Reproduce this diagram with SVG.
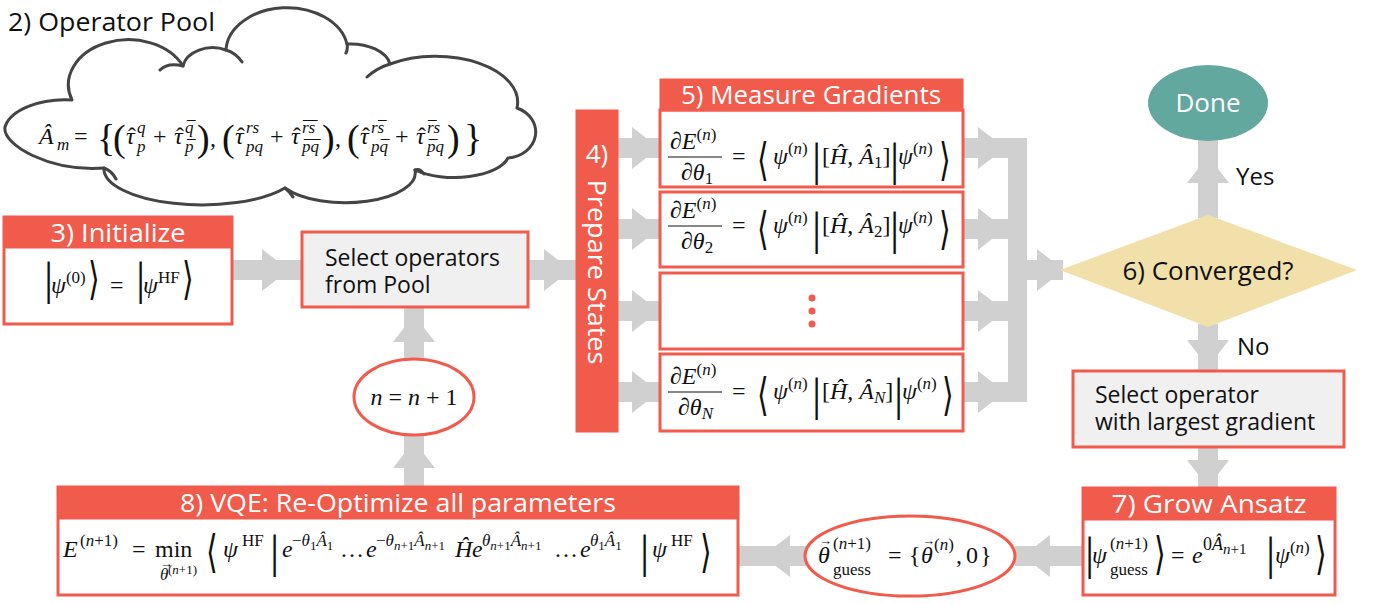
<svg xmlns="http://www.w3.org/2000/svg" width="1380" height="604" viewBox="0 0 1380 604">
<defs>
<style>
.lbl{font-family:"Open Sans","Noto Sans","DejaVu Sans",sans-serif;fill:#111;}
.hdr{font-family:"Open Sans","Noto Sans","DejaVu Sans",sans-serif;font-size:26px;fill:#fff;text-anchor:middle;}
.red{fill:#f15b4c;stroke:#f15b4c;stroke-width:1;}
.box{fill:#fff;stroke:#f15b4c;stroke-width:3;}
.sel{fill:#f0f0f0;stroke:#f15b4c;stroke-width:3;}
.arw{fill:#d0d0d0;}
.m{font-family:"Liberation Serif","DejaVu Serif",serif;font-size:24px;fill:#111;}
.i{font-style:italic;}
.s{font-size:17px;}
.ss{font-size:13px;}
.br{font-size:38px;}
.bar{font-family:"Liberation Serif","DejaVu Serif",serif;font-size:46px;fill:#111;}
.ang{font-family:"DejaVu Sans","DejaVu Serif",serif;font-size:30px;fill:#111;}
.cloud{fill:#fff;stroke:#444;stroke-width:3;stroke-linejoin:round;}
.tail{fill:none;stroke:#444;stroke-width:3;stroke-linecap:round;}
</style>
</defs>
<rect width="1380" height="604" fill="#fff"/>

<g id="connectors">
  <rect class="arw" x="232" y="260" width="70" height="20"/>
  <polygon class="arw" points="262,249 289,270 262,291"/>
  <rect class="arw" x="528" y="260" width="48" height="20"/>
  <polygon class="arw" points="544,249 571,270 544,291"/>
  <rect class="arw" x="618" y="138" width="42" height="20"/>
  <polygon class="arw" points="632,127 659,148 632,169"/>
  <rect class="arw" x="618" y="219" width="42" height="20"/>
  <polygon class="arw" points="632,208 659,229 632,250"/>
  <rect class="arw" x="618" y="301" width="42" height="20"/>
  <polygon class="arw" points="632,290 659,311 632,332"/>
  <rect class="arw" x="618" y="382" width="42" height="20"/>
  <polygon class="arw" points="632,371 659,392 632,413"/>
  <rect class="arw" x="963" y="138" width="45" height="20"/>
  <polygon class="arw" points="978,127 1005,148 978,169"/>
  <rect class="arw" x="963" y="219" width="45" height="20"/>
  <polygon class="arw" points="978,208 1005,229 978,250"/>
  <rect class="arw" x="963" y="301" width="45" height="20"/>
  <polygon class="arw" points="978,290 1005,311 978,332"/>
  <rect class="arw" x="963" y="382" width="45" height="20"/>
  <polygon class="arw" points="978,371 1005,392 978,413"/>
  <rect class="arw" x="1008" y="138" width="19" height="264"/>
  <rect class="arw" x="1027" y="260" width="36" height="20"/>
  <polygon class="arw" points="1037,249 1064,270 1037,291"/>
  <rect class="arw" x="1198" y="138" width="20" height="80"/>
  <polygon class="arw" points="1187,183 1208,156 1229,183"/>
  <rect class="arw" x="1198" y="324" width="20" height="48"/>
  <polygon class="arw" points="1187,340 1208,367 1229,340"/>
  <rect class="arw" x="1198" y="446" width="20" height="43"/>
  <polygon class="arw" points="1187,460 1208,487 1229,460"/>
  <rect class="arw" x="1015" y="546" width="68" height="20"/>
  <polygon class="arw" points="1050,535 1023,556 1050,577"/>
  <rect class="arw" x="738" y="546" width="68" height="20"/>
  <polygon class="arw" points="790,535 763,556 790,577"/>
  <rect class="arw" x="404" y="433" width="20" height="55"/>
  <polygon class="arw" points="393,468 414,441 435,468"/>
  <rect class="arw" x="404" y="306" width="20" height="53"/>
  <polygon class="arw" points="393,342 414,315 435,342"/>
</g>

<g id="pool">
  <text class="lbl" x="8" y="31" font-size="26" textLength="207" lengthAdjust="spacingAndGlyphs">2) Operator Pool</text>
  <path class="cloud" d="M72,100 A60,45 0 0 1 183,66 A30,22 0 0 1 226,50 A61,44 0 0 1 347,44 A40,24 0 0 1 390,64 A82,46 0 0 1 517,108 A30,26 0 0 1 508,158 A55,25 0 0 1 415,170 A70,30 0 0 1 285,188 A98,36 0 0 1 104,168 C50,172 2,145 5,127 C10,110 40,98 72,100 Z"/>
  <path class="tail" d="M226,50 Q236,53 242,62 M347,44 Q348,49 346,53 M390,64 Q377,68 367,77 M183,66 Q168,62 160,70 M285,188 Q290,192 293,197 M104,168 Q112,171 116,179 M415,170 Q420,168 424,174"/>
  <text class="m" y="144">
    <tspan x="39" class="i">Â</tspan><tspan x="57" y="150" class="s i">m</tspan>
    <tspan x="74" y="144">=</tspan>
    <tspan x="97" y="151" class="br">{</tspan>
    <tspan x="113" y="151" class="br">(</tspan>
    <tspan x="126" y="144" class="i">τ</tspan><tspan x="128" y="144">ˆ</tspan>
    <tspan x="137" y="133" class="s i">q</tspan><tspan x="137" y="152" class="s i">p</tspan>
    <tspan x="153" y="144">+</tspan>
    <tspan x="174" y="144" class="i">τ</tspan><tspan x="176" y="144">ˆ</tspan>
    <tspan x="185" y="133" class="s i">q</tspan><tspan x="187" y="133" class="s">¯</tspan><tspan x="185" y="152" class="s i">p</tspan><tspan x="187" y="152" class="s">¯</tspan>
    <tspan x="197" y="151" class="br">)</tspan>
    <tspan x="210" y="146">,</tspan>
    <tspan x="222" y="151" class="br">(</tspan>
    <tspan x="235" y="144" class="i">τ</tspan><tspan x="237" y="144">ˆ</tspan>
    <tspan x="246" y="133" class="s i">rs</tspan><tspan x="246" y="152" class="s i">pq</tspan>
    <tspan x="270" y="144">+</tspan>
    <tspan x="291" y="144" class="i">τ</tspan><tspan x="293" y="144">ˆ</tspan>
    <tspan x="302" y="133" class="s i">rs</tspan><tspan x="303" y="133" class="s">¯</tspan><tspan x="309" y="133" class="s">¯</tspan><tspan x="302" y="152" class="s i">pq</tspan><tspan x="304" y="152" class="s">¯</tspan><tspan x="312" y="152" class="s">¯</tspan>
    <tspan x="322" y="151" class="br">)</tspan>
    <tspan x="335" y="146">,</tspan>
    <tspan x="347" y="151" class="br">(</tspan>
    <tspan x="360" y="144" class="i">τ</tspan><tspan x="362" y="144">ˆ</tspan>
    <tspan x="371" y="133" class="s i">rs</tspan><tspan x="378" y="133" class="s">¯</tspan><tspan x="371" y="152" class="s i">pq</tspan><tspan x="381" y="152" class="s">¯</tspan>
    <tspan x="395" y="144">+</tspan>
    <tspan x="416" y="144" class="i">τ</tspan><tspan x="418" y="144">ˆ</tspan>
    <tspan x="427" y="133" class="s i">rs</tspan><tspan x="428" y="133" class="s">¯</tspan><tspan x="427" y="152" class="s i">pq</tspan><tspan x="429" y="152" class="s">¯</tspan>
    <tspan x="447" y="151" class="br">)</tspan>
    <tspan x="464" y="151" class="br">}</tspan>
  </text>
</g>

<g id="initialize">
  <rect class="box" x="4" y="217" width="228" height="107"/>
  <rect class="red" x="4" y="217" width="228" height="31"/>
  <text class="hdr" x="118" y="242" textLength="135" lengthAdjust="spacingAndGlyphs">3) Initialize</text>
  <text class="bar" x="44" y="294">|</text>
  <text class="m" y="293"><tspan x="51" class="i">ψ</tspan><tspan class="s" dy="-10">(0)</tspan></text>
  <text class="ang" transform="translate(88,294) scale(1,1.5)">⟩</text>
  <text class="m" x="110" y="293">=</text>
  <text class="bar" x="136" y="294">|</text>
  <text class="m" y="293"><tspan x="143" class="i">ψ</tspan><tspan class="s" dy="-10">HF</tspan></text>
  <text class="ang" transform="translate(182,294) scale(1,1.5)">⟩</text>
</g>

<g id="select-ops">
  <rect class="sel" x="302" y="232" width="226" height="75"/>
  <text class="lbl" x="325" y="266" font-size="23">Select operators</text>
  <text class="lbl" x="325" y="293" font-size="23">from Pool</text>
</g>

<g id="increment">
  <ellipse cx="414" cy="397" rx="60" ry="38" fill="#fff" stroke="#f15b4c" stroke-width="3"/>
  <text class="m" x="414" y="405" font-size="26" text-anchor="middle"><tspan class="i">n</tspan> = <tspan class="i">n</tspan> + 1</text>
</g>

<g id="prepare">
  <rect class="red" x="576" y="110" width="42" height="322"/>
  <text class="hdr" x="597" y="163">4)</text>
  <text class="hdr" transform="translate(588,272) rotate(90)" textLength="185" lengthAdjust="spacingAndGlyphs">Prepare States</text>
</g>

<g id="gradients">
  <rect class="box" x="660" y="110" width="303" height="77"/>
  <rect class="red" x="660" y="79" width="303" height="32"/>
  <text class="hdr" x="811" y="104" textLength="260" lengthAdjust="spacingAndGlyphs">5) Measure Gradients</text>
  <g id="grad1">
    <text class="m" x="670" y="149">∂<tspan class="i">E</tspan><tspan class="s" dy="-9">(<tspan class="i">n</tspan>)</tspan></text>
    <line x1="668" y1="157" x2="722" y2="157" stroke="#111" stroke-width="1.2"/>
    <text class="m" x="681" y="180">∂<tspan class="i">θ</tspan><tspan class="s" dy="4">1</tspan></text>
    <text class="m" x="732" y="164">=</text>
    <text class="ang" transform="translate(757,175) scale(1,1.5)">⟨</text>
    <text class="m" y="164"><tspan x="773" class="i">ψ</tspan><tspan class="s" dy="-10">(<tspan class="i">n</tspan>)</tspan></text>
    <text class="bar" x="812" y="175">|</text>
    <text class="m" x="822" y="164">[<tspan class="i">Ĥ</tspan>, <tspan class="i">Â</tspan><tspan class="s" dy="4">1</tspan><tspan dy="-4">]</tspan></text>
    <text class="bar" x="890" y="175">|</text>
    <text class="m" y="164"><tspan x="898" class="i">ψ</tspan><tspan class="s" dy="-10">(<tspan class="i">n</tspan>)</tspan></text>
    <text class="ang" transform="translate(939,175) scale(1,1.5)">⟩</text>
  </g>
  <g id="grad2">
    <rect class="box" x="660" y="192" width="303" height="75"/>
    <g transform="translate(0,69)">
      <text class="m" x="670" y="149">∂<tspan class="i">E</tspan><tspan class="s" dy="-9">(<tspan class="i">n</tspan>)</tspan></text>
      <line x1="668" y1="157" x2="722" y2="157" stroke="#111" stroke-width="1.2"/>
      <text class="m" x="681" y="180">∂<tspan class="i">θ</tspan><tspan class="s" dy="4">2</tspan></text>
      <text class="m" x="732" y="164">=</text>
      <text class="ang" transform="translate(757,175) scale(1,1.5)">⟨</text>
      <text class="m" y="164"><tspan x="773" class="i">ψ</tspan><tspan class="s" dy="-10">(<tspan class="i">n</tspan>)</tspan></text>
      <text class="bar" x="812" y="175">|</text>
      <text class="m" x="822" y="164">[<tspan class="i">Ĥ</tspan>, <tspan class="i">Â</tspan><tspan class="s" dy="4">2</tspan><tspan dy="-4">]</tspan></text>
      <text class="bar" x="890" y="175">|</text>
      <text class="m" y="164"><tspan x="898" class="i">ψ</tspan><tspan class="s" dy="-10">(<tspan class="i">n</tspan>)</tspan></text>
      <text class="ang" transform="translate(939,175) scale(1,1.5)">⟩</text>
    </g>
  </g>
  <g id="grad-dots">
    <rect class="box" x="660" y="273" width="303" height="76"/>
    <circle cx="812" cy="298" r="3.5" fill="#f15b4c"/>
    <circle cx="812" cy="311" r="3.5" fill="#f15b4c"/>
    <circle cx="812" cy="324" r="3.5" fill="#f15b4c"/>
  </g>
  <g id="gradN">
    <rect class="box" x="660" y="354" width="303" height="77"/>
    <g transform="translate(0,235)">
      <text class="m" x="670" y="149">∂<tspan class="i">E</tspan><tspan class="s" dy="-9">(<tspan class="i">n</tspan>)</tspan></text>
      <line x1="668" y1="157" x2="722" y2="157" stroke="#111" stroke-width="1.2"/>
      <text class="m" x="678" y="180">∂<tspan class="i">θ</tspan><tspan class="s i" dy="4">N</tspan></text>
      <text class="m" x="732" y="164">=</text>
      <text class="ang" transform="translate(757,175) scale(1,1.5)">⟨</text>
      <text class="m" y="164"><tspan x="773" class="i">ψ</tspan><tspan class="s" dy="-10">(<tspan class="i">n</tspan>)</tspan></text>
      <text class="bar" x="812" y="175">|</text>
      <text class="m" x="822" y="164">[<tspan class="i">Ĥ</tspan>, <tspan class="i">Â</tspan><tspan class="s i" dy="4">N</tspan><tspan dy="-4">]</tspan></text>
      <text class="bar" x="894" y="175">|</text>
      <text class="m" y="164"><tspan x="902" class="i">ψ</tspan><tspan class="s" dy="-10">(<tspan class="i">n</tspan>)</tspan></text>
      <text class="ang" transform="translate(942,175) scale(1,1.5)">⟩</text>
    </g>
  </g>
</g>

<g id="converged">
  <polygon points="1060,270 1208,215 1357,270 1208,327" fill="#f2e0ab"/>
  <text class="lbl" x="1208" y="280" font-size="25" text-anchor="middle" textLength="171" lengthAdjust="spacingAndGlyphs">6) Converged?</text>
  <text class="lbl" x="1236" y="185" font-size="24">Yes</text>
  <text class="lbl" x="1237" y="355" font-size="24">No</text>
</g>

<g id="done">
  <ellipse cx="1208" cy="103" rx="60" ry="38" fill="#62a89f"/>
  <text class="hdr" x="1208" y="112" font-size="25">Done</text>
</g>

<g id="select-op">
  <rect class="sel" x="1073" y="371" width="271" height="76"/>
  <text class="lbl" x="1095" y="403" font-size="23">Select operator</text>
  <text class="lbl" x="1095" y="430" font-size="23">with largest gradient</text>
</g>

<g id="grow">
  <rect class="box" x="1083" y="488" width="252" height="107"/>
  <rect class="red" x="1083" y="488" width="252" height="32"/>
  <text class="hdr" x="1209" y="513" textLength="195" lengthAdjust="spacingAndGlyphs">7) Grow Ansatz</text>
  <text class="bar" x="1085" y="569">|</text>
  <text class="m" y="563"><tspan x="1092" class="i">ψ</tspan><tspan x="1110" y="549" class="s">(<tspan class="i">n</tspan>+1)</tspan><tspan x="1110" y="575" class="s">guess</tspan></text>
  <text class="ang" transform="translate(1154,569) scale(1,1.5)">⟩</text>
  <text class="m" x="1171" y="563">=</text>
  <text class="m" y="563"><tspan x="1192" class="i">e</tspan><tspan x="1203" y="550" font-size="18">0<tspan class="i">Â</tspan></tspan><tspan y="554" font-size="15"><tspan class="i">n</tspan>+1</tspan></text>
  <text class="bar" x="1266" y="569">|</text>
  <text class="m" y="563"><tspan x="1275" class="i">ψ</tspan><tspan class="s" dy="-10">(<tspan class="i">n</tspan>)</tspan></text>
  <text class="ang" transform="translate(1315,569) scale(1,1.5)">⟩</text>
</g>

<g id="theta-guess">
  <ellipse cx="910" cy="556" rx="105" ry="40" fill="#fff" stroke="#f15b4c" stroke-width="3"/>
  <text class="m" y="563"><tspan x="818" class="i">θ</tspan><tspan x="819" y="545" class="ss">→</tspan><tspan x="833" y="549" class="s">(<tspan class="i">n</tspan>+1)</tspan><tspan x="833" y="575" class="s">guess</tspan></text>
  <text class="m" x="888" y="563">=</text>
  <text class="m" y="563"><tspan x="909">{</tspan><tspan x="921" class="i">θ</tspan><tspan x="922" y="545" class="ss">→</tspan><tspan x="934" y="550" class="s">(<tspan class="i">n</tspan>)</tspan><tspan x="956" y="563">,</tspan><tspan x="966">0</tspan><tspan x="980">}</tspan></text>
</g>

<g id="vqe">
  <rect class="box" x="58" y="487" width="680" height="108"/>
  <rect class="red" x="58" y="487" width="680" height="32"/>
  <text class="hdr" x="398" y="512" textLength="436" lengthAdjust="spacingAndGlyphs">8) VQE: Re-Optimize all parameters</text>
  <text class="m" y="557"><tspan x="63" class="i">E</tspan><tspan x="80" y="546" class="s">(<tspan class="i">n</tspan>+1)</tspan></text>
  <text class="m" x="132" y="557">=</text>
  <text class="m" x="155" y="557">min</text>
  <text class="m" y="580"><tspan x="160" class="s i">θ</tspan><tspan x="160" y="568" class="ss">→</tspan><tspan x="168" y="574" class="ss">(<tspan class="i">n</tspan>+1)</tspan></text>
  <text class="ang" transform="translate(206,567) scale(1,1.5)">⟨</text>
  <text class="m" y="557"><tspan x="223" class="i">ψ</tspan><tspan x="242" y="546" class="s">HF</tspan></text>
  <text class="bar" x="270" y="567">|</text>
  <text class="m" y="557"><tspan x="282" class="i">e</tspan><tspan x="292" y="546" class="s">−<tspan class="i">θ</tspan></tspan><tspan y="550" class="ss">1</tspan><tspan y="546" class="s i">Â</tspan><tspan y="550" class="ss">1</tspan></text>
  <text class="m" x="340" y="557">…</text>
  <text class="m" y="557"><tspan x="366" class="i">e</tspan><tspan x="376" y="546" class="s">−<tspan class="i">θ</tspan></tspan><tspan y="550" class="ss"><tspan class="i">n</tspan>+1</tspan><tspan y="546" class="s i">Â</tspan><tspan y="550" class="ss"><tspan class="i">n</tspan>+1</tspan></text>
  <text class="m" x="455" y="557"><tspan class="i">Ĥ</tspan></text>
  <text class="m" y="557"><tspan x="472" class="i">e</tspan><tspan x="482" y="546" class="s i">θ</tspan><tspan y="550" class="ss"><tspan class="i">n</tspan>+1</tspan><tspan y="546" class="s i">Â</tspan><tspan y="550" class="ss"><tspan class="i">n</tspan>+1</tspan></text>
  <text class="m" x="554" y="557">…</text>
  <text class="m" y="557"><tspan x="580" class="i">e</tspan><tspan x="590" y="546" class="s i">θ</tspan><tspan y="550" class="ss">1</tspan><tspan y="546" class="s i">Â</tspan><tspan y="550" class="ss">1</tspan></text>
  <text class="bar" x="640" y="567">|</text>
  <text class="m" y="557"><tspan x="652" class="i">ψ</tspan><tspan x="671" y="546" class="s">HF</tspan></text>
  <text class="ang" transform="translate(700,567) scale(1,1.5)">⟩</text>
</g>
</svg>
